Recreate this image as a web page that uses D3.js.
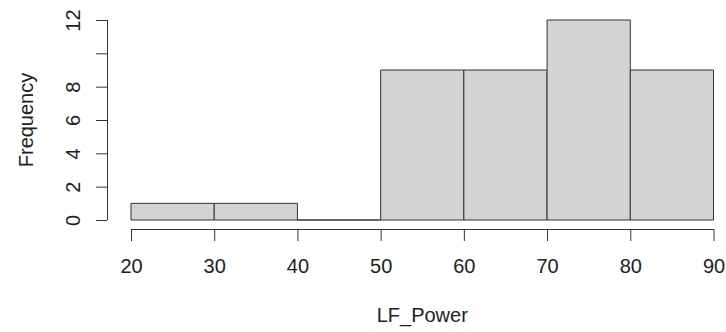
<!DOCTYPE html>
<html>
<head>
<meta charset="utf-8">
<script src="https://cdn.jsdelivr.net/npm/d3@7"></script>
<style>
  body { margin: 0; background: #fff; }
  svg text { font-family: "Liberation Sans", Arial, sans-serif; fill: #222; }
</style>
</head>
<body>
<svg id="chart"></svg>
<script>
const binStarts = [20, 30, 40, 50, 60, 70, 80];
const binWidth = 10;
const counts = [1, 1, 0, 9, 9, 12, 9];
const xTickValues = [20, 30, 40, 50, 60, 70, 80, 90];
const yTickValues = [0, 2, 4, 6, 8, 10, 12];
const yTickLabels = ["0", "2", "4", "6", "8", "", "12"];

const width = 726, height = 332;
const svg = d3.select('#chart').attr('width', width).attr('height', height);

const xScale = d3.scaleLinear().domain([20, 90]).range([131, 713.5]);
const yScale = d3.scaleLinear().domain([0, 12]).range([220, 20]);

// bars as paths so an empty bin still shows its base line (like R's hist)
svg.selectAll('path.bar')
  .data(binStarts.map((s, i) => ({ x0: s, x1: s + binWidth, n: counts[i] })))
  .enter()
  .append('path')
  .attr('class', 'bar')
  .attr('d', d => {
    const a = xScale(d.x0), b = xScale(d.x1);
    const y0 = yScale(0), y1 = yScale(d.n);
    return `M${a},${y0}V${y1}H${b}V${y0}Z`;
  })
  .attr('fill', '#d3d3d3')
  .attr('stroke', '#333')
  .attr('stroke-width', 1);

// x axis
const xAxis = d3.axisBottom(xScale)
  .tickValues(xTickValues)
  .tickSize(12)
  .tickPadding(18)
  .tickFormat(d3.format(''));

const xAxisG = svg.append('g')
  .attr('transform', 'translate(0, 229)')
  .call(xAxis);

// y axis
const yAxis = d3.axisLeft(yScale)
  .tickValues(yTickValues)
  .tickSize(11)
  .tickPadding(0)
  .tickFormat((d, i) => yTickLabels[i]);

const yAxisG = svg.append('g')
  .attr('transform', 'translate(107, 0)')
  .call(yAxis);

[xAxisG, yAxisG].forEach(g => {
  g.selectAll('.tick line').attr('stroke', '#333');
  g.selectAll('.tick text').style('font-size', '20px').attr('fill', '#222');
});

// domain lines like R (no end caps)
xAxisG.select('.domain').attr('stroke', '#333').attr('d', `M${xScale(20)},0.5H${xScale(90)}`);
yAxisG.select('.domain').attr('stroke', '#333').attr('d', `M0.5,${yScale(0)}V${yScale(12)}`);

yAxisG.selectAll('.tick text')
  .attr('x', null).attr('dy', null)
  .attr('text-anchor', 'middle')
  .attr('transform', 'translate(-27, 0) rotate(-90)');

// axis titles
svg.append('text')
  .attr('x', xScale(55))
  .attr('y', 322)
  .attr('text-anchor', 'middle')
  .style('font-size', '20px')
  .text('LF_Power');

svg.append('text')
  .attr('transform', `translate(33, ${yScale(6)}) rotate(-90)`)
  .attr('text-anchor', 'middle')
  .style('font-size', '20px')
  .text('Frequency');
</script>
</body>
</html>
